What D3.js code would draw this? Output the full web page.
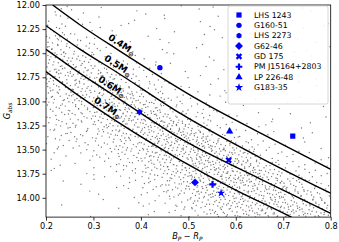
<!DOCTYPE html>
<html>
<head>
<meta charset="utf-8">
<script src="https://cdn.jsdelivr.net/npm/d3@7"></script>
<style>
  body { margin: 0; background: #fff; }
  text { font-family: "DejaVu Sans", sans-serif; }
</style>
</head>
<body>
<svg id="chart" width="339" height="242"></svg>
<script>
// Background sample: counts of stars per (colour, magnitude) cell.
const colourBins = [0.20, 0.25, 0.30, 0.35, 0.40, 0.45, 0.50, 0.55, 0.60, 0.65, 0.70, 0.75, 0.80];
const magBins = [12.0, 12.1, 12.2, 12.3, 12.4, 12.5, 12.6, 12.7, 12.8, 12.9, 13.0,
                 13.1, 13.2, 13.3, 13.4, 13.5, 13.6, 13.7, 13.8, 13.9, 14.0, 14.1, 14.2];
const cellCounts = [
    [3, 2, 1, 1, 1, 1, 1, 2, 1, 1, 1, 1],        // 12.0
    [5, 2, 1, 2, 1, 1, 1, 1, 1, 2, 1, 1],
    [7, 3, 2, 1, 1, 1, 1, 1, 1, 1, 2, 1],
    [12, 5, 2, 1, 2, 1, 1, 1, 1, 1, 1, 1],
    [14, 7, 5, 2, 1, 1, 2, 1, 1, 1, 1, 2],
    [15, 12, 5, 3, 2, 1, 1, 1, 1, 1, 1, 1],      // 12.5
    [15, 14, 9, 5, 3, 2, 1, 1, 1, 2, 1, 1],
    [15, 16, 16, 7, 5, 2, 1, 1, 1, 1, 1, 1],
    [14, 16, 18, 14, 7, 3, 2, 1, 2, 1, 1, 1],
    [13, 15, 18, 18, 10, 5, 3, 2, 1, 1, 1, 1],
    [11, 13, 17, 19, 17, 7, 5, 2, 1, 1, 1, 1],   // 13.0
    [9, 11, 15, 19, 19, 14, 7, 3, 2, 1, 1, 1],
    [8, 9, 13, 17, 21, 21, 12, 5, 3, 2, 1, 1],
    [7, 7, 11, 15, 20, 23, 21, 7, 5, 2, 1, 1],
    [5, 5, 9, 13, 18, 22, 23, 17, 7, 3, 2, 1],
    [3, 3, 6, 11, 16, 20, 22, 22, 14, 5, 3, 2],  // 13.5
    [2, 2, 4, 8, 14, 18, 22, 23, 21, 9, 5, 3],
    [1, 1, 3, 5, 11, 16, 20, 22, 21, 17, 7, 5],
    [1, 1, 2, 3, 8, 14, 18, 20, 21, 19, 14, 5],
    [0, 1, 1, 2, 5, 10, 16, 19, 20, 19, 17, 12],
    [1, 0, 1, 1, 3, 7, 13, 17, 19, 19, 18, 15],  // 14.0
    [0, 1, 0, 1, 2, 4, 9, 15, 17, 19, 18, 17]
];

// Cooling tracks for constant mass
const massLabels = ["0.4", "0.5", "0.6", "0.7"];
const trackColour = [
    [0.214, 0.272, 0.35, 0.525, 0.694, 0.80],
    [0.20, 0.272, 0.35, 0.483, 0.65, 0.80],
    [0.20, 0.272, 0.35, 0.483, 0.65, 0.80],
    [0.20, 0.272, 0.35, 0.483, 0.60, 0.715, 0.74]
];
const trackMag = [
    [12.0, 12.207, 12.46, 12.995, 13.435, 13.705],
    [12.215, 12.46, 12.70, 13.125, 13.58, 13.953],
    [12.46, 12.709, 12.96, 13.384, 13.80, 14.161],
    [12.69, 12.951, 13.21, 13.608, 13.92, 14.196, 14.26]
];
const labelColour = [0.356, 0.348, 0.335, 0.326];

// Highlighted objects
const names = ["LHS 1243", "G160-51", "LHS 2273", "G62-46", "GD 175", "PM J15164+2803", "LP 226-48", "G183-35"];
const bpRp = [0.720, 0.440, 0.397, 0.514, 0.585, 0.551, 0.587, 0.569];
const gAbs = [13.36, 12.65, 13.11, 13.84, 13.61, 13.86, 13.31, 13.95];
const markers = ["square", "circle", "hexagon", "diamond", "x", "plus", "triangle", "star"];

const xTicks = [0.2, 0.3, 0.4, 0.5, 0.6, 0.7, 0.8];
const yTicks = [12.0, 12.25, 12.5, 12.75, 13.0, 13.25, 13.5, 13.75, 14.0];

const svg = d3.select("#chart");
const plotL = 46, plotR = 330.7, plotT = 5, plotB = 217.1;

const x = d3.scaleLinear().domain([0.2, 0.8]).range([plotL, plotR]);
const y = d3.scaleLinear().domain([12.0, 14.2]).range([plotT, plotB]);

svg.append("defs").append("clipPath").attr("id", "plot")
    .append("rect")
    .attr("x", plotL).attr("y", plotT)
    .attr("width", plotR - plotL).attr("height", plotB - plotT);

// spread the counted stars over each cell with a Halton sequence (even, but not a lattice)
function halton(i, b) {
    let f = 1, r = 0;
    while (i > 0) { f /= b; r += f * (i % b); i = Math.floor(i / b); }
    return r;
}
const stars = [];
let k = 37;
cellCounts.forEach((row, i) => {
    row.forEach((n, j) => {
        for (let m = 0; m < n; m++, k++) {
            stars.push({
                c: colourBins[j] + halton(k, 2) * (colourBins[j + 1] - colourBins[j]),
                g: magBins[i] + halton(k, 3) * (magBins[i + 1] - magBins[i])
            });
        }
    });
});

const gPlot = svg.append("g").attr("clip-path", "url(#plot)");

gPlot.append("g")
    .selectAll("circle")
    .data(stars)
    .join("circle")
    .attr("cx", d => x(d.c))
    .attr("cy", d => y(d.g))
    .attr("r", 0.7)
    .attr("fill", "#555")
    .attr("fill-opacity", 0.8);

const line = d3.line()
    .x(d => x(d[0]))
    .y(d => y(d[1]))
    .curve(d3.curveMonotoneX);

gPlot.append("g")
    .attr("fill", "none")
    .attr("stroke", "#000")
    .attr("stroke-width", 1.4)
    .selectAll("path")
    .data(trackColour.map((cs, i) => cs.map((c, j) => [c, trackMag[i][j]])))
    .join("path")
    .attr("d", line);

// mass labels sit just above each track
massLabels.forEach((lab, i) => {
    const cs = trackColour[i], ms = trackMag[i];
    const mag = d3.scaleLinear().domain(cs).range(ms)(labelColour[i]);
    const px = x(labelColour[i]), py = y(mag);
    const t = svg.append("text")
        .attr("transform", `translate(${px + 2},${py - 6.5}) rotate(33)`)
        .attr("text-anchor", "middle")
        .attr("font-size", 9.2)
        .attr("font-weight", "bold")
        .attr("dy", "0.35em");
    t.append("tspan").text(lab + "M");
    t.append("tspan").attr("font-size", 6.3).attr("dy", 2).text("\u2299");
});

// marker shapes
function markerPath(type, s) {
    switch (type) {
        case "square": return d3.symbol(d3.symbolSquare, s * s)();
        case "circle": return d3.symbol(d3.symbolCircle, Math.PI * s * s / 4)();
        case "triangle": return d3.symbol(d3.symbolTriangle, s * s * 0.6)();
        case "star": return d3.symbol(d3.symbolStar, s * s * 0.5)();
        case "plus": return d3.symbol(d3.symbolCross, s * s * 0.6)();
        case "x": return d3.symbol(d3.symbolCross, s * s * 0.6)();
        case "hexagon": {
            const r = s / 2;
            return d3.range(6).map(i => {
                const a = Math.PI / 3 * i - Math.PI / 2;
                return (i ? "L" : "M") + (r * Math.cos(a)).toFixed(2) + "," + (r * Math.sin(a)).toFixed(2);
            }).join("") + "Z";
        }
        case "diamond": {
            const r = s * 0.62;
            return `M0,${-r}L${r},0L0,${r}L${-r},0Z`;
        }
    }
}
const markerSize = { square: 5.2, circle: 5.4, hexagon: 5.8, diamond: 6.4, x: 6.6, plus: 6.4, triangle: 6.2, star: 6.6 };

gPlot.append("g")
    .selectAll("path")
    .data(names.map((n, i) => ({ n, c: bpRp[i], g: gAbs[i], m: markers[i] })))
    .join("path")
    .attr("transform", d => `translate(${x(d.c)},${y(d.g)})${d.m === "x" ? " rotate(45)" : ""}`)
    .attr("d", d => markerPath(d.m, markerSize[d.m]))
    .attr("fill", "#0000ff");

// frame
svg.append("rect")
    .attr("x", plotL).attr("y", plotT)
    .attr("width", plotR - plotL).attr("height", plotB - plotT)
    .attr("fill", "none")
    .attr("stroke", "#000")
    .attr("stroke-width", 0.8);

// axes
const xAxis = svg.append("g")
    .attr("transform", `translate(0,${plotB})`)
    .call(d3.axisBottom(x).tickValues(xTicks).tickFormat(d3.format(".1f")).tickSize(3.5).tickPadding(2.5));
const yAxis = svg.append("g")
    .attr("transform", `translate(${plotL},0)`)
    .call(d3.axisLeft(y).tickValues(yTicks).tickFormat(d3.format(".2f")).tickSize(3.5).tickPadding(2.5));
[xAxis, yAxis].forEach(a => {
    a.select(".domain").remove();
    a.selectAll("line").attr("stroke", "#000").attr("stroke-width", 0.8);
    a.selectAll("text").attr("font-size", 8.2).attr("fill", "#000")
        .attr("font-family", "DejaVu Sans, sans-serif");
});

// axis titles
const xt = svg.append("text")
    .attr("x", (plotL + plotR) / 2 - 1)
    .attr("y", 239)
    .attr("text-anchor", "middle")
    .attr("font-size", 8.2)
    .attr("font-style", "italic");
xt.append("tspan").text("B");
xt.append("tspan").attr("font-size", 5.8).attr("dy", 1.8).text("P");
xt.append("tspan").attr("dy", -1.8).attr("font-style", "normal").text(" \u2212 ");
xt.append("tspan").text("R");
xt.append("tspan").attr("font-size", 5.8).attr("dy", 1.8).text("P");

const yt = svg.append("text")
    .attr("transform", `translate(10,${(plotT + plotB) / 2}) rotate(-90)`)
    .attr("text-anchor", "middle")
    .attr("font-size", 8.2)
    .attr("font-style", "italic");
yt.append("tspan").text("G");
yt.append("tspan").attr("font-size", 5.8).attr("dy", 1.8).text("abs");

// legend
const legend = svg.append("g").attr("transform", "translate(228,6)");
legend.append("rect")
    .attr("width", 100).attr("height", 98)
    .attr("rx", 2)
    .attr("fill", "#fff").attr("fill-opacity", 0.85)
    .attr("stroke", "#ccc").attr("stroke-width", 0.8);
const item = legend.selectAll("g.item")
    .data(names.map((n, i) => ({ n, m: markers[i] })))
    .join("g")
    .attr("class", "item")
    .attr("transform", (d, i) => `translate(0,${9 + i * 10.35})`);
item.append("path")
    .attr("transform", d => `translate(11,0)${d.m === "x" ? " rotate(45)" : ""}`)
    .attr("d", d => markerPath(d.m, markerSize[d.m]))
    .attr("fill", "#0000ff");
item.append("text")
    .attr("x", 26)
    .attr("dy", "0.35em")
    .attr("font-size", 7.8)
    .attr("fill", "#000")
    .text(d => d.n);
</script>
</body>
</html>
